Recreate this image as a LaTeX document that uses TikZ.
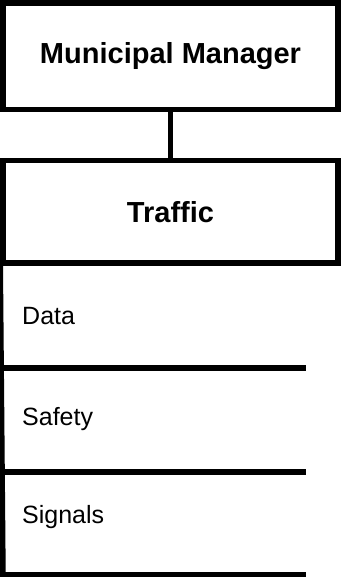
\documentclass[tikz,border=0pt]{standalone}
\usepackage{fontspec}
\setmainfont{Liberation Sans}
\usetikzlibrary{positioning}

\tikzset{
    headbox/.style={draw, line width=5.5pt, minimum width=335pt, inner sep=0pt,
        font=\fontsize{29}{35}\selectfont\bfseries},
    itemtext/.style={anchor=west, inner sep=0pt, font=\fontsize{25}{30}\selectfont},
    rule/.style={line width=5.5pt}
}

\begin{document}
\begin{tikzpicture}[x=1pt, y=-1pt]
    \useasboundingbox (0,0) rectangle (341,577);

    % Manager box
    \node[headbox, minimum height=106.5pt] (mm) at (170.5,56.2) {Municipal Manager};

    % Department box
    \node[headbox, minimum height=102.5pt] (traffic) at (170.5,211.8) {Traffic};
    \draw[rule] (mm.south) -- (traffic.north);

    % Sections
    \node[itemtext] (data) at (22,316) {Data};
    \node[itemtext] (safety) at (22,419) {Safety};
    \node[itemtext] (signals) at (22,517) {Signals};

    \coordinate (datab) at (0,368);
    \coordinate (safetyb) at (0,472);
    \coordinate (signalsb) at (0,574.5);

    \draw[rule] (traffic.south west) -- (3,577);
    \draw[rule] (datab) -- ++(306,0);
    \draw[rule] (safetyb) -- ++(306,0);
    \draw[rule] (signalsb) -- ++(306,0);
\end{tikzpicture}
\end{document}
